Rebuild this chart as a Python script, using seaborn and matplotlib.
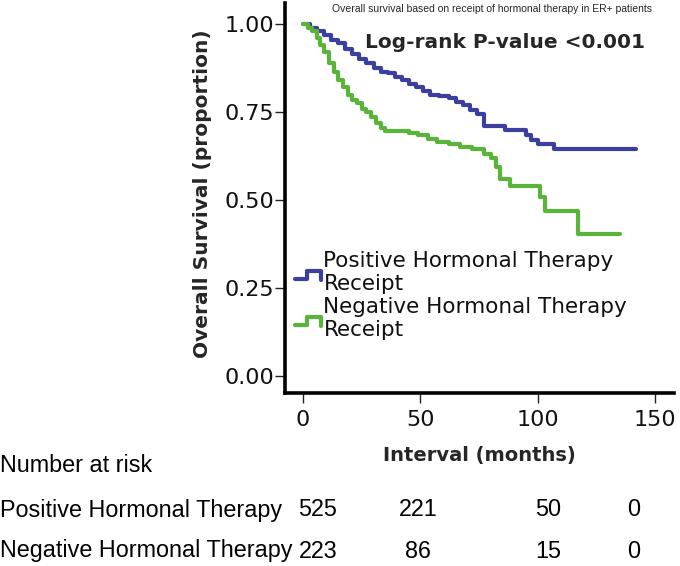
import numpy as np
import pandas as pd
import matplotlib
matplotlib.use("Agg")
import matplotlib.pyplot as plt
from matplotlib.lines import Line2D
from matplotlib.legend_handler import HandlerBase
import seaborn as sns

# Kaplan-Meier step points (months, proportion surviving)
pos_time = [0, 3, 6, 9, 12, 15, 18, 21, 24, 27, 30, 33, 36, 39, 42, 45, 48, 51,
            54, 58, 62, 65, 68, 71, 74, 77, 86, 95, 97, 100, 107, 142]
pos_surv = [1.0, 0.99, 0.98, 0.97, 0.955, 0.945, 0.93, 0.915, 0.90, 0.89, 0.875,
            0.865, 0.86, 0.85, 0.84, 0.83, 0.82, 0.81, 0.80, 0.795, 0.79, 0.78,
            0.77, 0.757, 0.745, 0.71, 0.70, 0.685, 0.67, 0.66, 0.645, 0.645]

neg_time = [0, 2, 4, 6, 7, 9, 11, 13, 15, 17, 19, 21, 23, 25, 27, 29, 31, 33,
            35, 40, 45, 49, 53, 57, 62, 67, 72, 77, 80, 82, 84, 88, 101, 103,
            117, 135]
neg_surv = [1.0, 0.99, 0.98, 0.96, 0.94, 0.92, 0.89, 0.865, 0.84, 0.82, 0.80,
            0.785, 0.775, 0.76, 0.75, 0.735, 0.72, 0.705, 0.697, 0.695, 0.69,
            0.685, 0.675, 0.665, 0.66, 0.65, 0.645, 0.63, 0.62, 0.595, 0.56,
            0.54, 0.51, 0.47, 0.405, 0.405]

groups = ["Positive Hormonal Therapy\nReceipt", "Negative Hormonal Therapy\nReceipt"]
colors = ["#3b3fa0", "#5ab43a"]

x_ticks = [0, 50, 100, 150]
y_ticks = [0.00, 0.25, 0.50, 0.75, 1.00]

# number at risk table
risk_rows = ["Positive Hormonal Therapy", "Negative Hormonal Therapy"]
risk_pos = [525, 221, 50, 0]
risk_neg = [223, 86, 15, 0]

km_df = pd.concat([
    pd.DataFrame({"time": pos_time, "surv": pos_surv, "group": groups[0]}),
    pd.DataFrame({"time": neg_time, "surv": neg_surv, "group": groups[1]}),
])

sns.set_style("ticks")
plt.rcParams["font.family"] = ["DejaVu Sans"]

fig = plt.figure(figsize=(6.8, 5.66), dpi=100)
ax = fig.add_axes([285 / 680, 1 - 393 / 566, (674 - 285) / 680, 390 / 566])

sns.lineplot(
    data=km_df, x="time", y="surv", hue="group", palette=colors,
    estimator=None, sort=False, drawstyle="steps-post", linewidth=3,
    legend=False, ax=ax,
)

ax.set_xlim(-7.7, 158)
ax.set_ylim(-0.048, 1.06)
ax.set_xticks(x_ticks)
ax.set_xticklabels([str(t) for t in x_ticks])
ax.set_yticks(y_ticks)
ax.set_yticklabels([f"{v:.2f}" for v in y_ticks])
ax.tick_params(axis="both", labelsize=16, length=7, width=1, color="#222222",
               labelcolor="#111111")
ax.tick_params(axis="x", pad=5)
ax.tick_params(axis="y", pad=1)
for side in ["top", "right"]:
    ax.spines[side].set_visible(False)
for side in ["left", "bottom"]:
    ax.spines[side].set_linewidth(2.6)
    ax.spines[side].set_color("black")

ax.set_xlabel("Interval (months)", fontsize=14, fontweight="bold", labelpad=12)
ax.set_ylabel("Overall Survival (proportion)", fontsize=14.5, fontweight="bold",
              labelpad=9)
ax.yaxis.label.set_y(0.51)


class StepHandler(HandlerBase):
    def create_artists(self, legend, orig_handle, xdescent, ydescent,
                       width, height, fontsize, trans):
        xs = np.array([0, 0.45, 0.45, 1, 1]) * width - xdescent
        ys = np.array([0.1, 0.1, 0.65, 0.65, 0.05]) * height - ydescent
        line = Line2D(xs, ys, color=orig_handle.get_color(),
                      lw=orig_handle.get_linewidth(), transform=trans)
        return [line]


handles = [Line2D([], [], color=c, lw=3) for c in colors]
ax.legend(
    handles, groups, handler_map={Line2D: StepHandler()},
    loc="upper left", bbox_to_anchor=(295 / 680, 1 - 251 / 566),
    bbox_transform=fig.transFigure, frameon=False, fontsize=15.5,
    handlelength=1.2, handletextpad=0.12, labelspacing=0.12,
    borderpad=0, borderaxespad=0, labelcolor="#111111",
)

fig.text(0.724, 1 - 9 / 566,
         "Overall survival based on receipt of hormonal therapy in ER+ patients",
         ha="center", va="center", fontsize=7.5, family="Liberation Sans")
fig.text(505 / 680, 1 - 42 / 566, "Log-rank P-value <0.001",
         ha="center", va="center", fontsize=14.5, fontweight="bold")

# number at risk
table_font = dict(fontsize=16.8, family="Liberation Sans", va="center", color="black")
col_x = [318, 418, 548, 634]
fig.text(0, 1 - 465 / 566, "Number at risk", ha="left", **table_font)
for row_y, name, counts in [(510, risk_rows[0], risk_pos), (551, risk_rows[1], risk_neg)]:
    fig.text(0, 1 - row_y / 566, name, ha="left", **table_font)
    for cx, n in zip(col_x, counts):
        fig.text(cx / 680, 1 - row_y / 566, str(n), ha="center", **table_font)

fig.savefig("out.png", dpi=100)
